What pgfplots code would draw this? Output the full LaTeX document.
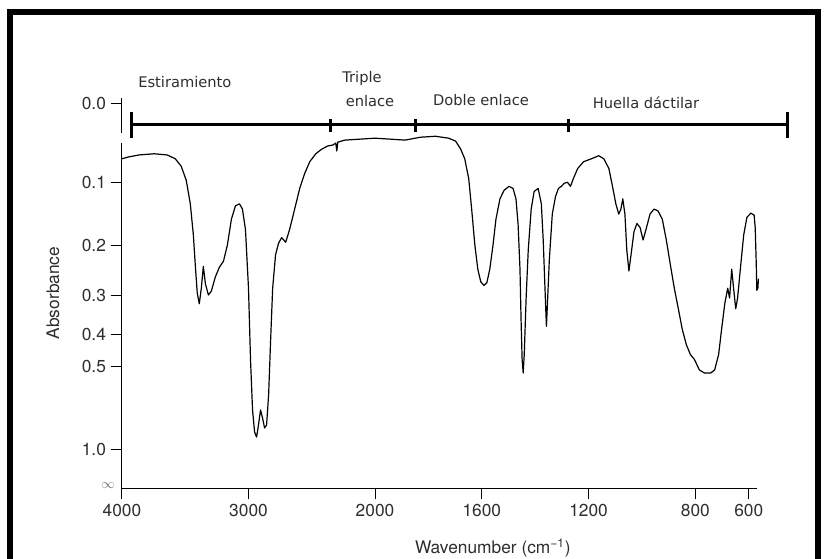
\documentclass[border=0pt]{standalone}
\usepackage{pgfplots}
\usepackage{pgfplotstable}
\pgfplotsset{compat=1.18}
\usepackage{fontspec}
\setmainfont{TeX Gyre Heros}
\newfontfamily\annot{DejaVu Sans}
\definecolor{txt}{HTML}{2E2E2E}

\pgfplotstableread{
w A
4000 0.068
3944 0.0655
3865 0.063
3746 0.0615
3643 0.063
3579 0.068
3532 0.078
3492 0.0975
3460 0.132
3436 0.182
3421 0.236
3405 0.296
3389 0.320
3373 0.285
3357 0.240
3341 0.275
3317 0.300
3294 0.2915
3262 0.261
3230 0.2415
3198 0.230
3167 0.200
3135 0.156
3103 0.135
3071 0.132
3048 0.140
3024 0.173
3000 0.285
2984 0.478
2968 0.693
2952 0.837
2936 0.878
2921 0.786
2905 0.693
2889 0.740
2873 0.807
2857 0.786
2841 0.617
2825 0.4145
2809 0.285
2786 0.2175
2762 0.1965
2738 0.187
2706 0.195
2675 0.173
2635 0.140
2595 0.109
2556 0.088
2516 0.072
2468 0.0615
2421 0.0555
2373 0.0515
2333 0.0503
2310 0.0478
2302 0.058
2294 0.0466
2238 0.0441
2119 0.0429
2000 0.0417
1943 0.0429
1887 0.0441
1830 0.0405
1774 0.0393
1724 0.0417
1698 0.0454
1679 0.0555
1664 0.068
1649 0.095
1638 0.140
1626 0.200
1615 0.2453
1604 0.271
1592 0.279
1581 0.273
1570 0.2453
1558 0.200
1547 0.156
1532 0.1244
1517 0.112
1498 0.106
1483 0.109
1472 0.1244
1464 0.1647
1457 0.2453
1453 0.358
1449 0.476
1445 0.525
1441 0.460
1434 0.307
1426 0.2087
1415 0.140
1404 0.1135
1389 0.109
1377 0.132
1370 0.191
1362 0.307
1358 0.377
1355 0.332
1347 0.2265
1336 0.148
1324 0.121
1313 0.109
1302 0.106
1291 0.1016
1279 0.1002
1268 0.106
1257 0.095
1241 0.0811
1219 0.072
1189 0.068
1162 0.064
1143 0.068
1124 0.0811
1109 0.109
1098 0.132
1087 0.148
1079 0.140
1072 0.1244
1064 0.148
1057 0.2087
1049 0.249
1041 0.2175
1030 0.1767
1019 0.163
1007 0.170
996 0.191
985 0.173
970 0.148
955 0.140
940 0.143
924 0.156
909 0.191
894 0.236
879 0.285
864 0.332
849 0.3855
834 0.429
819 0.460
804 0.476
785 0.5135
766 0.525
743 0.525
728 0.5135
713 0.460
702 0.3855
690 0.320
679 0.285
672 0.307
664 0.2453
657 0.285
649 0.332
642 0.307
630 0.236
619 0.182
607 0.153
592 0.1464
580 0.1497
576 0.170
572 0.236
570 0.2894
566 0.285
564 0.2648
}\spec

\begin{document}
\begin{tikzpicture}
\path[use as bounding box] (0,0) rectangle (618.75pt,418.5pt);
\begin{axis}[
  at={(91.5pt,52.5pt)}, anchor=south west,
  scale only axis, width=476.25pt, height=292.5pt,
  xmin=0, xmax=635, ymin=0, ymax=1.01299,
  clip=false,
  axis x line*=bottom, axis y line*=left,
  axis line style={-, line width=0.75pt, black},
  tick align=outside, major tick length=8.5pt,
  tick style={line width=0.75pt, black},
  x filter/.expression={x>=2000 ? (4000-x)*0.1265 : 253+(2000-x)*0.267},
  y filter/.expression={exp(-2.302585*y)},
  xtick={0,126.5,253,359.8,466.6,573.4,626.8},
  xticklabels={4000,3000,2000,1600,1200,800,600},
  ytick={0.1,0.316228,0.398107,0.501187,0.630957,0.794328,1},
  yticklabels={1.0,0.5,0.4,0.3,0.2,0.1,0.0},
  tick label style={font=\fontsize{13}{14}\selectfont, text=txt},
  xlabel={Wavenumber (cm\textsuperscript{−1})},
  ylabel={Absorbance},
  label style={font=\fontsize{13}{14}\selectfont, text=txt},
  xlabel style={at={(axis description cs:0.584,-0.154)}, anchor=center},
  ylabel style={at={(axis description cs:-0.1087,0.5)}, anchor=center},
]
\addplot[black, line width=0.9pt, line join=round] table[x=w, y=A] {\spec};
\end{axis}
\begin{scope}[shift={(0pt,418.5pt)}, x=0.75pt, y=-0.75pt]
  % gap in y axis line
  \fill[white] (118,133) rectangle (126.5,143);
  % infinity label
  \node[text=txt!70, inner sep=0pt] at (108,486) {\fontsize{10}{10}\selectfont$\infty$};
  % outer frame
  \draw[line width=4.5pt, line join=miter] (10,570) -- (10,12.5) -- (818,12.5) -- (818,570);
  % region bracket
  \draw[line width=2.25pt] (131,125) -- (787,125);
  \draw[line width=2.25pt] (131,112) -- (131,138);
  \draw[line width=2.25pt] (787,112) -- (787,138);
  \draw[line width=2.25pt] (330,119) -- (330,132);
  \draw[line width=2.25pt] (415,119) -- (415,132);
  \draw[line width=2.25pt] (568,119) -- (568,132);
  \begin{scope}[every node/.style={inner sep=0pt, text=txt, font=\annot\fontsize{11}{12}\selectfont}]
    \node[anchor=west] at (138,82) {Estiramiento};
    \node at (362,78) {Triple};
    \node at (370,101) {enlace};
    \node at (481,100) {Doble enlace};
    \node at (646,103) {Huella dáctilar};
  \end{scope}
\end{scope}
\end{tikzpicture}
\end{document}
